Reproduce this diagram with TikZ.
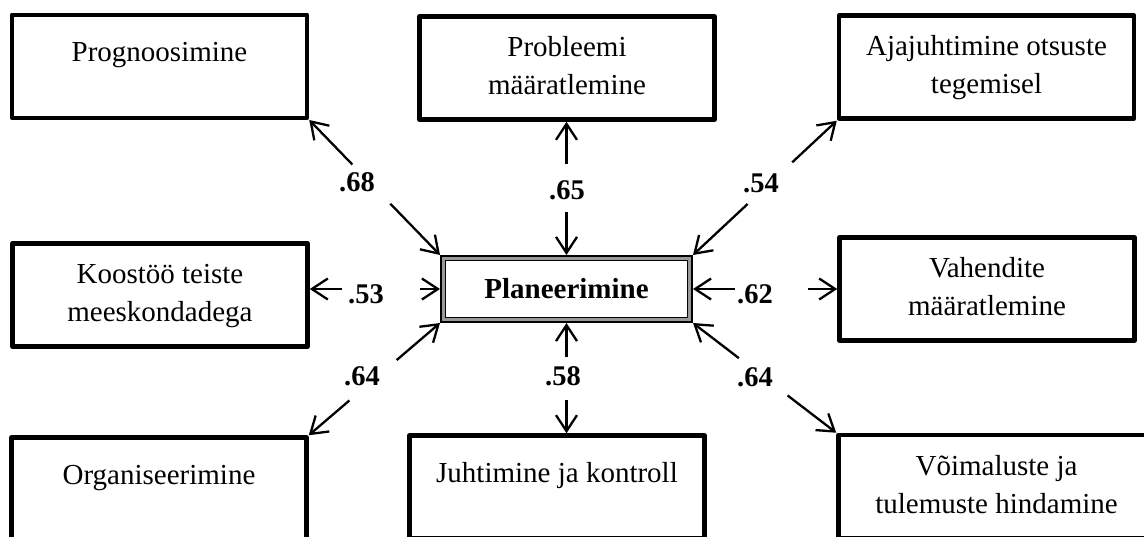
\documentclass[tikz,border=0pt]{standalone}
\usepackage{fontspec}
\setmainfont{Liberation Serif}
\usetikzlibrary{arrows.meta}

\begin{document}
\begin{tikzpicture}[x=1pt,y=-1pt,
  box/.style={draw, line width=4.5pt, line join=round, minimum width=295pt,
    minimum height=103pt, inner sep=0pt, align=center,
    font=\fontsize{29}{38}\selectfont},
  oneline/.style={text height=46.5pt, text depth=56.5pt},
  hub/.style={draw, line width=1.6pt, double=black!40, double distance=3pt,
    minimum width=246.8pt, minimum height=61.8pt, inner sep=0pt, outer sep=3.1pt,
    font=\fontsize{29}{34}\selectfont\bfseries},
  coef/.style={font=\fontsize{28.5}{34}\selectfont\bfseries, inner sep=0pt},
  link/.style={line width=2.3pt, -{Straight Barb[length=16pt,width=21pt]}},
]
\useasboundingbox (0,0) rectangle (1144,536);
\clip (0,0) rectangle (1144,536);

% outer factors
\node[box, oneline] (progn) at (159.5,66.25) {Prognoosimine};
\node[box] (probl) at (567,68) {\strut Probleemi\\\strut määratlemine};
\node[box] (ajaj) at (986.5,67) {\strut Ajajuhtimine otsuste\\\strut tegemisel};
\node[box] (koost) at (160,295) {\strut Koostöö teiste\\\strut meeskondadega};
\node[box] (vahend) at (987,289) {\strut Vahendite\\\strut määratlemine};
\node[box, oneline] (organ) at (159,489) {Organiseerimine};
\node[box, oneline] (juht) at (557,487) {Juhtimine ja kontroll};
\node[box, minimum width=316pt] (voim) at (996.5,486.5) {\strut Võimaluste ja\\\strut tulemuste hindamine};

% central factor
\node[hub] (plan) at (566.5,289) {Planeerimine};

% gaps along each link, measured from the central box outwards
\path (plan.north west) -- (progn.south east)
  coordinate[pos=.38] (g68a) coordinate[pos=.67] (g68b);
\path (plan.north) -- (plan.north |- probl.south)
  coordinate[pos=.32] (g65a) coordinate[pos=.68] (g65b);
\path (plan.north east) -- (ajaj.south west)
  coordinate[pos=.38] (g54a) coordinate[pos=.69] (g54b);
\path (plan.west) -- (koost.east |- plan.west)
  coordinate[pos=.15] (g53a) coordinate[pos=.75] (g53b);
\path (plan.east) -- (vahend.west |- plan.east)
  coordinate[pos=.29] (g62a) coordinate[pos=.80] (g62b);
\path (plan.south west) -- (organ.north east)
  coordinate[pos=.33] (g64a) coordinate[pos=.69] (g64b);
\path (plan.south) -- (plan.south |- juht.north)
  coordinate[pos=.31] (g58a) coordinate[pos=.70] (g58b);
\path (plan.south east) -- (voim.north west)
  coordinate[pos=.32] (g64c) coordinate[pos=.66] (g64d);

% double-headed links, broken by the coefficient
\draw[link] (g68a) -- (plan.north west);
\draw[link] (g68b) -- (progn.south east);
\draw[link] (g65a) -- (plan.north);
\draw[link] (g65b) -- (plan.north |- probl.south);
\draw[link] (g54a) -- (plan.north east);
\draw[link] (g54b) -- (ajaj.south west);
\draw[link] (g53a) -- (plan.west);
\draw[link] (g53b) -- (koost.east |- plan.west);
\draw[link] (g62a) -- (plan.east);
\draw[link] (g62b) -- (vahend.west |- plan.east);
\draw[link] (g64a) -- (plan.south west);
\draw[link] (g64b) -- (organ.north east);
\draw[link] (g58a) -- (plan.south);
\draw[link] (g58b) -- (plan.south |- juht.north);
\draw[link] (g64c) -- (plan.south east);
\draw[link] (g64d) -- (voim.north west);

% coefficients
\node[coef] (c68) at (357,182.5) {.68};
\node[coef] (c65) at (567,190) {.65};
\node[coef] (c54) at (761,183) {.54};
\node[coef] (c53) at (366,294) {.53};
\node[coef] (c62) at (755,294) {.62};
\node[coef] (c64a) at (362,376) {.64};
\node[coef] (c58) at (563,376) {.58};
\node[coef] (c64b) at (755,377) {.64};
\end{tikzpicture}
\end{document}
